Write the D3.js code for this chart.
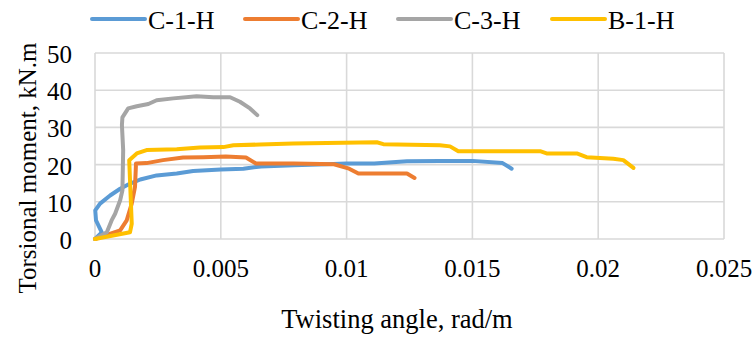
<!DOCTYPE html>
<html>
<head>
<meta charset="utf-8">
<script src="https://cdn.jsdelivr.net/npm/d3@7/dist/d3.min.js"></script>
<style>
  html, body { margin: 0; padding: 0; background: #fff; }
</style>
</head>
<body>
<svg id="chart" width="756" height="338"></svg>
<script>
// ---- data ----
const seriesNames = ["C-1-H", "C-2-H", "C-3-H", "B-1-H"];
const seriesColors = ["#5B9BD5", "#ED7D31", "#A5A5A5", "#FFC000"];

const c1hAngle  = [0, 0.00027, 0.00004, 0.00001, 0.0002, 0.0006, 0.001, 0.0014, 0.0018, 0.00245, 0.00325, 0.0039, 0.005, 0.0059, 0.0066, 0.0079, 0.0092, 0.01, 0.0111, 0.0124, 0.0137, 0.015, 0.0162, 0.01656];
const c1hMoment = [0, 1.8, 5.0, 7.7, 9.5, 11.7, 13.5, 14.9, 16.0, 17.1, 17.6, 18.3, 18.7, 18.9, 19.5, 19.8, 20.1, 20.3, 20.3, 20.9, 21.0, 21.0, 20.4, 18.9];

const c2hAngle  = [0, 0.001, 0.00126, 0.00146, 0.00159, 0.00163, 0.00205, 0.0027, 0.0035, 0.0043, 0.0052, 0.006, 0.0064, 0.0079, 0.0095, 0.0101, 0.01047, 0.0124, 0.0127];
const c2hMoment = [0, 2.3, 5.0, 9.5, 14.0, 20.3, 20.4, 21.2, 21.9, 22.0, 22.2, 21.9, 20.3, 20.3, 20.1, 18.9, 17.6, 17.6, 16.4];

const c3hAngle  = [0, 0.00047, 0.00066, 0.0008, 0.001, 0.00109, 0.00112, 0.00107, 0.00109, 0.00132, 0.00166, 0.00212, 0.00245, 0.00311, 0.00404, 0.0047, 0.00537, 0.00576, 0.00616, 0.00645];
const c3hMoment = [0, 1.8, 5.0, 6.8, 10.4, 13.1, 23.9, 30.6, 32.7, 35.1, 35.7, 36.3, 37.3, 37.8, 38.4, 38.1, 38.1, 36.9, 35.1, 33.3];

const b1hAngle  = [0, 0.00139, 0.00146, 0.00136, 0.00166, 0.00205, 0.00325, 0.00417, 0.0051, 0.0055, 0.00656, 0.00788, 0.00921, 0.0112, 0.01146, 0.01371, 0.01411, 0.01444, 0.01769, 0.01795, 0.01915, 0.01954, 0.0206, 0.021, 0.0214];
const b1hMoment = [0, 1.8, 4.1, 21.2, 23.0, 23.9, 24.1, 24.6, 24.7, 25.2, 25.4, 25.7, 25.8, 26.0, 25.5, 25.2, 24.9, 23.6, 23.6, 23.0, 23.0, 22.0, 21.6, 21.2, 19.1];

const xTicks = [0, 0.005, 0.01, 0.015, 0.02, 0.025];
const yTicks = [0, 10, 20, 30, 40, 50];
const xTitle = "Twisting angle, rad/m";
const yTitle = "Torsional moment, kN.m";

const seriesAngles = [c1hAngle, c2hAngle, c3hAngle, b1hAngle];
const seriesMoments = [c1hMoment, c2hMoment, c3hMoment, b1hMoment];

// ---- layout ----
const FONT = "'Liberation Serif', 'Times New Roman', Times, 'DejaVu Serif', serif";
const svg = d3.select("#chart").attr("font-family", FONT);
const plot = { left: 95, right: 724, top: 53, bottom: 239 };
const x = d3.scaleLinear().domain([0, 0.025]).range([plot.left, plot.right]);
const y = d3.scaleLinear().domain([0, 50]).range([plot.bottom, plot.top]);

const gridColor = "#D9D9D9";

// gridlines
svg.append("g").selectAll("line").data(yTicks).join("line")
  .attr("x1", plot.left).attr("x2", plot.right)
  .attr("y1", d => y(d)).attr("y2", d => y(d))
  .attr("stroke", gridColor).attr("stroke-width", 1.6);
svg.append("g").selectAll("line").data(xTicks).join("line")
  .attr("y1", plot.top).attr("y2", plot.bottom)
  .attr("x1", d => x(d)).attr("x2", d => x(d))
  .attr("stroke", gridColor).attr("stroke-width", 1.6);

// tick labels
const fmtX = d => d === 0 ? "0" : String(+d.toFixed(3));
svg.append("g").selectAll("text").data(xTicks).join("text")
  .attr("font-family", FONT)
  .attr("x", d => x(d)).attr("y", 277)
  .attr("text-anchor", "middle").attr("font-size", 25)
  .text(fmtX);
svg.append("g").selectAll("text").data(yTicks).join("text")
  .attr("font-family", FONT)
  .attr("x", 72).attr("y", d => y(d) + 10)
  .attr("text-anchor", "end").attr("font-size", 25)
  .text(d => d);

// axis titles
svg.append("text").attr("font-family", FONT)
  .attr("x", 397).attr("y", 328)
  .attr("text-anchor", "middle").attr("font-size", 26.5).text(xTitle);
svg.append("text").attr("font-family", FONT)
  .attr("transform", "translate(36,168) rotate(-90)")
  .attr("text-anchor", "middle").attr("font-size", 25).text(yTitle);

// series lines
const line = d3.line().x(d => x(d[0])).y(d => y(d[1]));
seriesNames.forEach((name, i) => {
  const pts = seriesAngles[i].map((a, k) => [a, seriesMoments[i][k]]);
  svg.append("path").datum(pts)
    .attr("d", line)
    .attr("fill", "none")
    .attr("stroke", seriesColors[i])
    .attr("stroke-width", 4)
    .attr("stroke-linejoin", "round")
    .attr("stroke-linecap", "round");
});

// legend
const legendX = [92, 245, 398, 552];
const leg = svg.append("g");
seriesNames.forEach((name, i) => {
  leg.append("line")
    .attr("x1", legendX[i]).attr("x2", legendX[i] + 53)
    .attr("y1", 19).attr("y2", 19)
    .attr("stroke", seriesColors[i]).attr("stroke-width", 4)
    .attr("stroke-linecap", "round");
  leg.append("text").attr("font-family", FONT)
    .attr("x", legendX[i] + 56).attr("y", 28.5)
    .attr("font-size", 26)
    .text(name);
});
</script>
</body>
</html>
